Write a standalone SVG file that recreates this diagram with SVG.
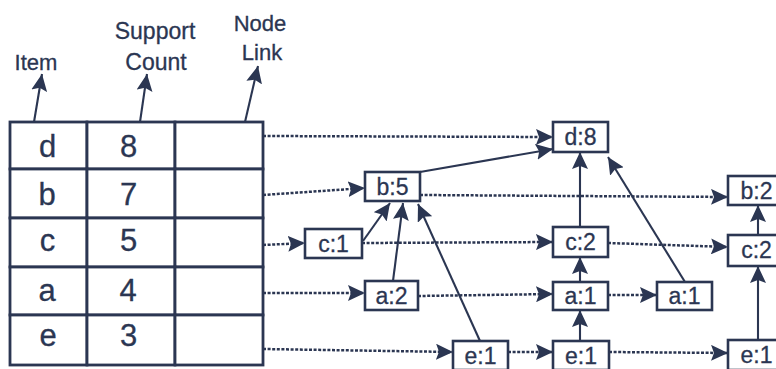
<svg xmlns="http://www.w3.org/2000/svg" width="776" height="369" viewBox="0 0 776 369">
<defs>
<marker id="ah" markerUnits="userSpaceOnUse" markerWidth="18" markerHeight="16" refX="17" refY="8" orient="auto">
<path d="M0,0 L17,8 L0,16 L3,8 z" fill="#2b3652"/>
</marker>
<style>
.t{font-family:"Liberation Sans",Arial,sans-serif;fill:#2b3652;stroke:#2b3652;stroke-width:0.3;text-anchor:middle}
.hdr{font-size:22px}
.hw{font-size:23px}
.cell{font-size:31px}
.nt{font-size:23px}
.box{fill:#fff;stroke:#2b3652;stroke-width:2.6}
.tbl{fill:#fff;stroke:#2b3652;stroke-width:2.8}
.dash{fill:none;stroke:#2b3652;stroke-width:2.5;stroke-dasharray:3 1.6;marker-end:url(#ah)}
.solid{fill:none;stroke:#2b3652;stroke-width:2.1;marker-end:url(#ah)}
</style>
</defs>
<rect width="776" height="369" fill="#ffffff"/>

<g id="headers">
<g id="hdr-item"><text class="t hdr" x="36" y="70">Item</text></g>
<g id="hdr-support"><text class="t hw" x="155" y="39">Support</text><text class="t hw" x="156" y="70">Count</text></g>
<g id="hdr-link"><text class="t hdr" x="260" y="31">Node</text><text class="t hdr" x="262" y="60">Link</text></g>
</g>

<g id="table">
<g id="row-d"><rect class="tbl" x="10" y="122" width="77" height="47"/><rect class="tbl" x="87" y="122" width="88" height="47"/><rect class="tbl" x="175" y="122" width="88" height="47"/><text class="t cell" x="47.5" y="157">d</text><text class="t cell" x="128.5" y="157">8</text></g>
<g id="row-b"><rect class="tbl" x="10" y="169" width="77" height="49"/><rect class="tbl" x="87" y="169" width="88" height="49"/><rect class="tbl" x="175" y="169" width="88" height="49"/><text class="t cell" x="47" y="205">b</text><text class="t cell" x="128.5" y="205">7</text></g>
<g id="row-c"><rect class="tbl" x="10" y="218" width="77" height="49"/><rect class="tbl" x="87" y="218" width="88" height="49"/><rect class="tbl" x="175" y="218" width="88" height="49"/><text class="t cell" x="47.5" y="251">c</text><text class="t cell" x="128.5" y="251">5</text></g>
<g id="row-a"><rect class="tbl" x="10" y="267" width="77" height="48"/><rect class="tbl" x="87" y="267" width="88" height="48"/><rect class="tbl" x="175" y="267" width="88" height="48"/><text class="t cell" x="47" y="301">a</text><text class="t cell" x="128" y="301">4</text></g>
<g id="row-e"><rect class="tbl" x="10" y="315" width="77" height="50"/><rect class="tbl" x="87" y="315" width="88" height="50"/><rect class="tbl" x="175" y="315" width="88" height="50"/><text class="t cell" x="48" y="346">e</text><text class="t cell" x="128.5" y="346">3</text></g>
</g>

<g id="connectors">
<path class="solid" d="M34,122 L42,74"/>
<path class="solid" d="M140,122 L147,74"/>
<path class="solid" d="M245,122 L258,66"/>

<path class="dash" d="M263,136 L553,137"/>
<path class="dash" d="M263,195 L365,188"/>
<path class="dash" d="M420,195 L728,197"/>
<path class="dash" d="M263,245 L305,243"/>
<path class="dash" d="M362,243 L553,242"/>
<path class="dash" d="M608,243 L728,247"/>
<path class="dash" d="M263,293 L365,293"/>
<path class="dash" d="M418,296 L553,294"/>
<path class="dash" d="M608,295 L657,295"/>
<path class="dash" d="M263,349 L453,352"/>
<path class="dash" d="M508,352 L553,352"/>
<path class="dash" d="M609,352 L728,353"/>

<path class="solid" d="M420,172 L553,149"/>
<path class="solid" d="M363,241 L390,203"/>
<path class="solid" d="M393,281 L403,203"/>
<path class="solid" d="M480,341 L418,204"/>
<path class="solid" d="M580,227 L580,152"/>
<path class="solid" d="M580,282 L580,257"/>
<path class="solid" d="M580,341 L580,310"/>
<path class="solid" d="M685,282 L608,157"/>
<path class="solid" d="M758,235 L758,205"/>
<path class="solid" d="M758,340 L758,266"/>
</g>

<g id="n-d8"><rect class="box" x="553" y="122" width="55" height="30"/><text class="t nt" x="580.5" y="145">d:8</text></g>
<g id="n-b5"><rect class="box" x="365" y="172" width="55" height="29"/><text class="t nt" x="392.5" y="195">b:5</text></g>
<g id="n-c1"><rect class="box" x="305" y="229" width="57" height="29"/><text class="t nt" x="333.5" y="252">c:1</text></g>
<g id="n-a2"><rect class="box" x="365" y="281" width="53" height="29"/><text class="t nt" x="391.5" y="304">a:2</text></g>
<g id="n-e1a"><rect class="box" x="453" y="341" width="55" height="29"/><text class="t nt" x="480.5" y="364">e:1</text></g>
<g id="n-c2m"><rect class="box" x="553" y="227" width="55" height="30"/><text class="t nt" x="580.5" y="250">c:2</text></g>
<g id="n-a1m"><rect class="box" x="553" y="282" width="55" height="28"/><text class="t nt" x="580.5" y="304">a:1</text></g>
<g id="n-a1r"><rect class="box" x="657" y="282" width="55" height="28"/><text class="t nt" x="684.5" y="304">a:1</text></g>
<g id="n-e1m"><rect class="box" x="553" y="341" width="56" height="29"/><text class="t nt" x="581" y="364">e:1</text></g>
<g id="n-b2"><rect class="box" x="728" y="176" width="56" height="29"/><text class="t nt" x="756.5" y="199">b:2</text></g>
<g id="n-c2r"><rect class="box" x="728" y="235" width="56" height="31"/><text class="t nt" x="756.5" y="258">c:2</text></g>
<g id="n-e1r"><rect class="box" x="728" y="340" width="56" height="30"/><text class="t nt" x="756.5" y="363">e:1</text></g>
</svg>
